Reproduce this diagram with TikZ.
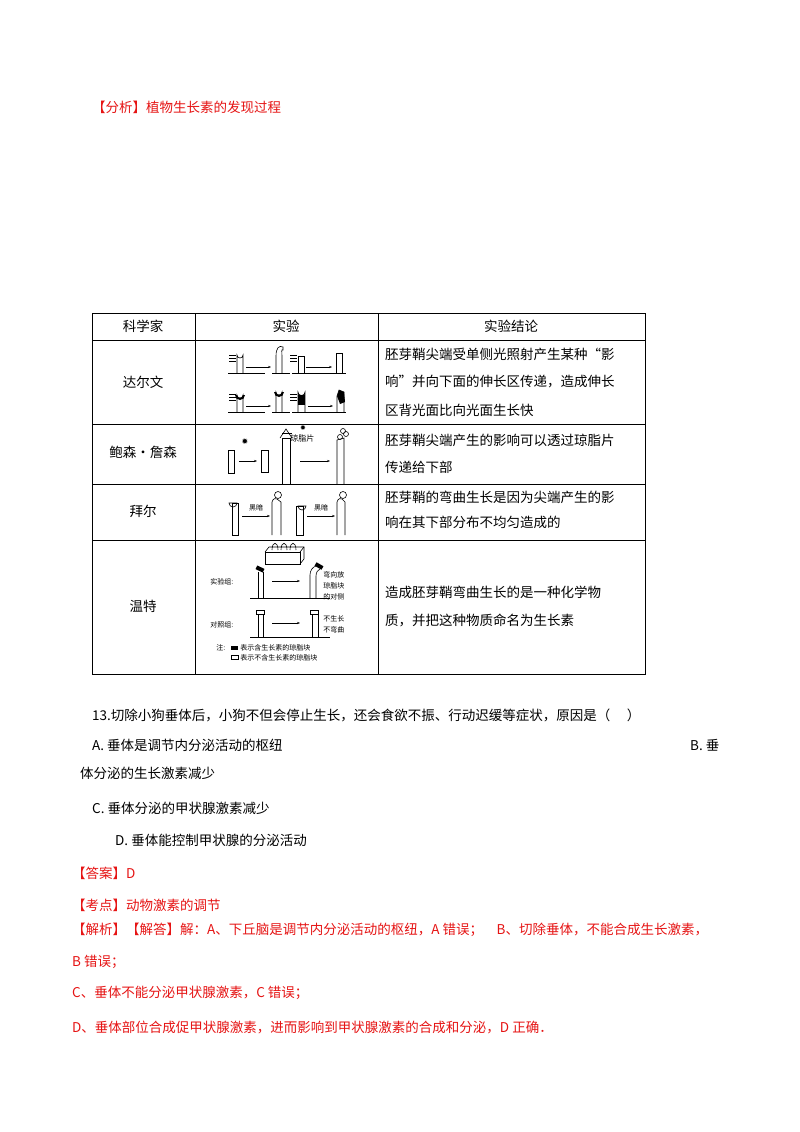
\documentclass[tikz,border=0pt]{standalone}
\usepackage{fontspec}
\setmainfont{Noto Sans CJK SC}
\newfontfamily\symfont{DejaVu Sans}
\usetikzlibrary{arrows.meta}
\definecolor{ered}{RGB}{230,20,20}
\begin{document}
\begin{tikzpicture}[x=1pt,y=-1pt,
  txt/.style={anchor=west,inner sep=0pt,font=\fontsize{13.5}{14}\selectfont},
  red/.style={txt,text=ered},
  cell/.style={inner sep=0pt,font=\fontsize{13.5}{14}\selectfont},
  tiny/.style={inner sep=0pt,font=\fontsize{7}{8}\selectfont,anchor=west},
  sk/.style={line width=0.6pt},
  arr/.style={-{Stealth[length=3pt]},line width=0.5pt}]
\useasboundingbox (0,0) rectangle (800,1132);
\fill[white] (0,0) rectangle (800,1132);
\node[red] (h1) at (92,107) {【分析】植物生长素的发现过程};
% table
\draw[line width=0.8pt] (92,313) rectangle (645,674);
\foreach \x in {195,378} \draw[line width=0.8pt] (\x,313) -- (\x,674);
\foreach \y in {340,424,484,540} \draw[line width=0.8pt] (92,\y) -- (645,\y);
\node[cell] (c1) at (143,326) {科学家};
\node[cell] (c2) at (286,326) {实验};
\node[cell] (c3) at (511,326) {实验结论};
\node[cell] (r1) at (143,382) {达尔文};
\node[cell] (r2) at (143,452) {鲍森·詹森};
\node[cell] (r3) at (143,511) {拜尔};
\node[cell] (r4) at (143,606) {温特};
\node[txt] (t1) at (385,354) {胚芽鞘尖端受单侧光照射产生某种“影};
\node[txt] (t2) at (385,382) {响”并向下面的伸长区传递，造成伸长};
\node[txt] (t3) at (385,410) {区背光面比向光面生长快};
\node[txt] (t4) at (385,440) {胚芽鞘尖端产生的影响可以透过琼脂片};
\node[txt] (t5) at (385,467) {传递给下部};
\node[txt] (t6) at (385,497) {胚芽鞘的弯曲生长是因为尖端产生的影};
\node[txt] (t7) at (385,522) {响在其下部分布不均匀造成的};
\node[txt] (t8) at (385,592) {造成胚芽鞘弯曲生长的是一种化学物};
\node[txt] (t9) at (385,620) {质，并把这种物质命名为生长素};
% Darwin sketches
\begin{scope}[sk]
 \draw (228,373) -- (265,373); \draw (272,373)--(290,373);
 \foreach \y in {355,358,361} \draw (229,\y)--(236,\y);
 \draw (237,373)--(237,355) arc(180:0:3) -- (243,373);
 \draw[arr] (246,367)--(271,367);
 \draw (276,373)--(276,356) .. controls (276,348) and (279,345) .. (283,347) -- (283,350) .. controls (281,349) and (282,352) .. (282,356) -- (282,373);
 \draw (292,373)--(346,373);
 \foreach \y in {355,358,361} \draw (290,\y)--(297,\y);
 \draw (298,373) rectangle (304,356);
 \draw[arr] (306,367)--(332,367);
 \draw (336,373) rectangle (342,353);
 % lower row
 \draw (228,412)--(265,412); \draw (272,412)--(290,412); \draw (292,412)--(346,412);
 \foreach \y in {394,397,400} \draw (229,\y)--(236,\y);
 \draw (237,412)--(237,395) arc(180:0:3) -- (243,412);
 \fill (235,395) arc(180:0:5) -- (243,395) arc(0:180:3) -- cycle;
 \draw[arr] (246,406)--(271,406);
 \draw (276,412)--(276,392) arc(180:0:3)--(282,412);
 \fill (274,392) arc(180:0:5)--(282,392) arc(0:180:3)--cycle;
 \foreach \y in {394,397,400} \draw (290,\y)--(297,\y);
 \draw (298,412)--(298,392) arc(180:0:3.5)--(305,412);
 \fill (298,395) rectangle (305,405);
 \draw[arr] (308,406)--(333,406);
 \draw (337,412)--(337,396) -- (339,390) -- (344,392) -- (344,412);
 \fill (337,396)--(339,390)--(344,392)--(345,402)--(340,404)--cycle;
\end{scope}
% Boysen-Jensen
\begin{scope}[sk]
 \draw (228,450) rectangle (234,473);
 \node[inner sep=0pt,font=\symfont\fontsize{8}{8}\selectfont] (s1) at (245,442) {✹};
 \draw[arr] (239,461)--(257,461);
 \draw (261,450) rectangle (268,472);
 \draw (282,484)--(282,438)--(290,438)--(290,484);
 \draw (280,438)--(286,429)--(292,438);
 \draw (282,433)--(292,433);
 \node[inner sep=0pt,font=\symfont\fontsize{7}{7}\selectfont] (s2) at (303,428) {✹};
 \node[inner sep=0pt,font=\fontsize{8}{8}\selectfont,anchor=west] (jz) at (290,438) {琼脂片};
 \draw[arr] (300,461)--(330,461);
 \draw (337,484)--(337,440)--(344,438)--(344,484);
 \draw (340,437) circle (2.5); \draw (346,434) circle (2.5); \draw (343,431) circle (2.5);
\end{scope}
% Bayer
\begin{scope}[sk]
 \draw (232,535) rectangle (238,503);
 \draw (229,503) arc(180:0:4)--cycle;
 \node[inner sep=0pt,font=\fontsize{7}{7}\selectfont] (hd1) at (256,508) {黑暗};
 \draw[arr] (242,516)--(270,516);
 \draw (272,535)--(272,502) .. controls (273,498) and (276,498) .. (277,499)--(281,502)--(281,535);
 \draw (278,495) circle (3.5);
 \draw (296,535) rectangle (303,506);
 \draw (298,506) arc(180:0:4)--cycle;
 \node[inner sep=0pt,font=\fontsize{7}{7}\selectfont] (hd2) at (321,508) {黑暗};
 \draw[arr] (307,516)--(335,516);
 \draw (337,535)--(337,502) .. controls (338,498) and (341,498) .. (342,499)--(345,502)--(345,535);
 \draw (343,495) circle (3.5);
\end{scope}
% Went
\begin{scope}[sk]
 \draw (265,552) rectangle (300,564);
 \draw (265,552)--(269,547)--(304,547)--(304,559)--(300,564);
 \draw (300,552)--(304,547);
 \foreach \x in {275,284,293} \draw (\x-3,550) .. controls (\x-3,541) and (\x+3,541) .. (\x+3,550);
 \node[tiny] (sy) at (210,582) {实验组:};
 \draw (250,598)--(330,598);
 \draw (258,598)--(258,572); \draw (263,598)--(263,572);
 \fill[rotate around={-25:(260,569)}] (256,567) rectangle (264,571);
 \draw[arr] (272,581)--(300,581);
 \draw (310,598)--(310,575) .. controls (310,570) and (313,567) .. (316,566);
 \draw (316,598)--(316,576) .. controls (316,572) and (318,570) .. (320,569);
 \fill[rotate around={-30:(319,566)}] (315,564) rectangle (323,568);
 \node[tiny] (g1) at (323,575) {弯向放};
 \node[tiny] (g2) at (323,586) {琼脂块};
 \node[tiny] (g3) at (323,597) {的对侧};
 \node[tiny] (dz) at (210,625) {对照组:};
 \draw (250,637)--(330,637);
 \draw (258,637)--(258,614); \draw (263,637)--(263,614);
 \draw (256,610) rectangle (264,614);
 \draw[arr] (272,623)--(300,623);
 \draw (312,637)--(312,614); \draw (318,637)--(318,614);
 \draw (310,610) rectangle (318,614);
 \node[tiny] (g4) at (323,619) {不生长};
 \node[tiny] (g5) at (323,630) {不弯曲};
 \node[tiny] (zhu) at (216,648) {注:};
 \fill (231,646) rectangle (238,650);
 \node[tiny] (n1) at (240,648) {表示含生长素的琼脂块};
 \draw (231,655) rectangle (238,659);
 \node[tiny] (n2) at (240,658) {表示不含生长素的琼脂块};
\end{scope}
% question
\node[txt] (q) at (92,715) {13.切除小狗垂体后，小狗不但会停止生长，还会食欲不振、行动迟缓等症状，原因是（\quad\ ）};
\node[txt] (qa) at (92,745) {A. 垂体是调节内分泌活动的枢纽};
\node[txt] (qb) at (690,745) {B. 垂};
\node[txt] (qb2) at (80,773) {体分泌的生长激素减少};
\node[txt] (qc) at (92,808) {C. 垂体分泌的甲状腺激素减少};
\node[txt] (qd) at (115,840) {D. 垂体能控制甲状腺的分泌活动};
\node[red] (a1) at (72,873) {【答案】D};
\node[red] (a2) at (72,905) {【考点】动物激素的调节};
\node[red] (a3) at (72,930) {【解析】【解答】解：A、下丘脑是调节内分泌活动的枢纽，A 错误；\quad B、切除垂体，不能合成生长激素，};
\node[red] (a4) at (72,962) {B 错误；};
\node[red] (a5) at (72,993) {C、垂体不能分泌甲状腺激素，C 错误；};
\node[red] (a6) at (72,1027) {D、垂体部位合成促甲状腺激素，进而影响到甲状腺激素的合成和分泌，D 正确．};
\end{tikzpicture}
\end{document}
